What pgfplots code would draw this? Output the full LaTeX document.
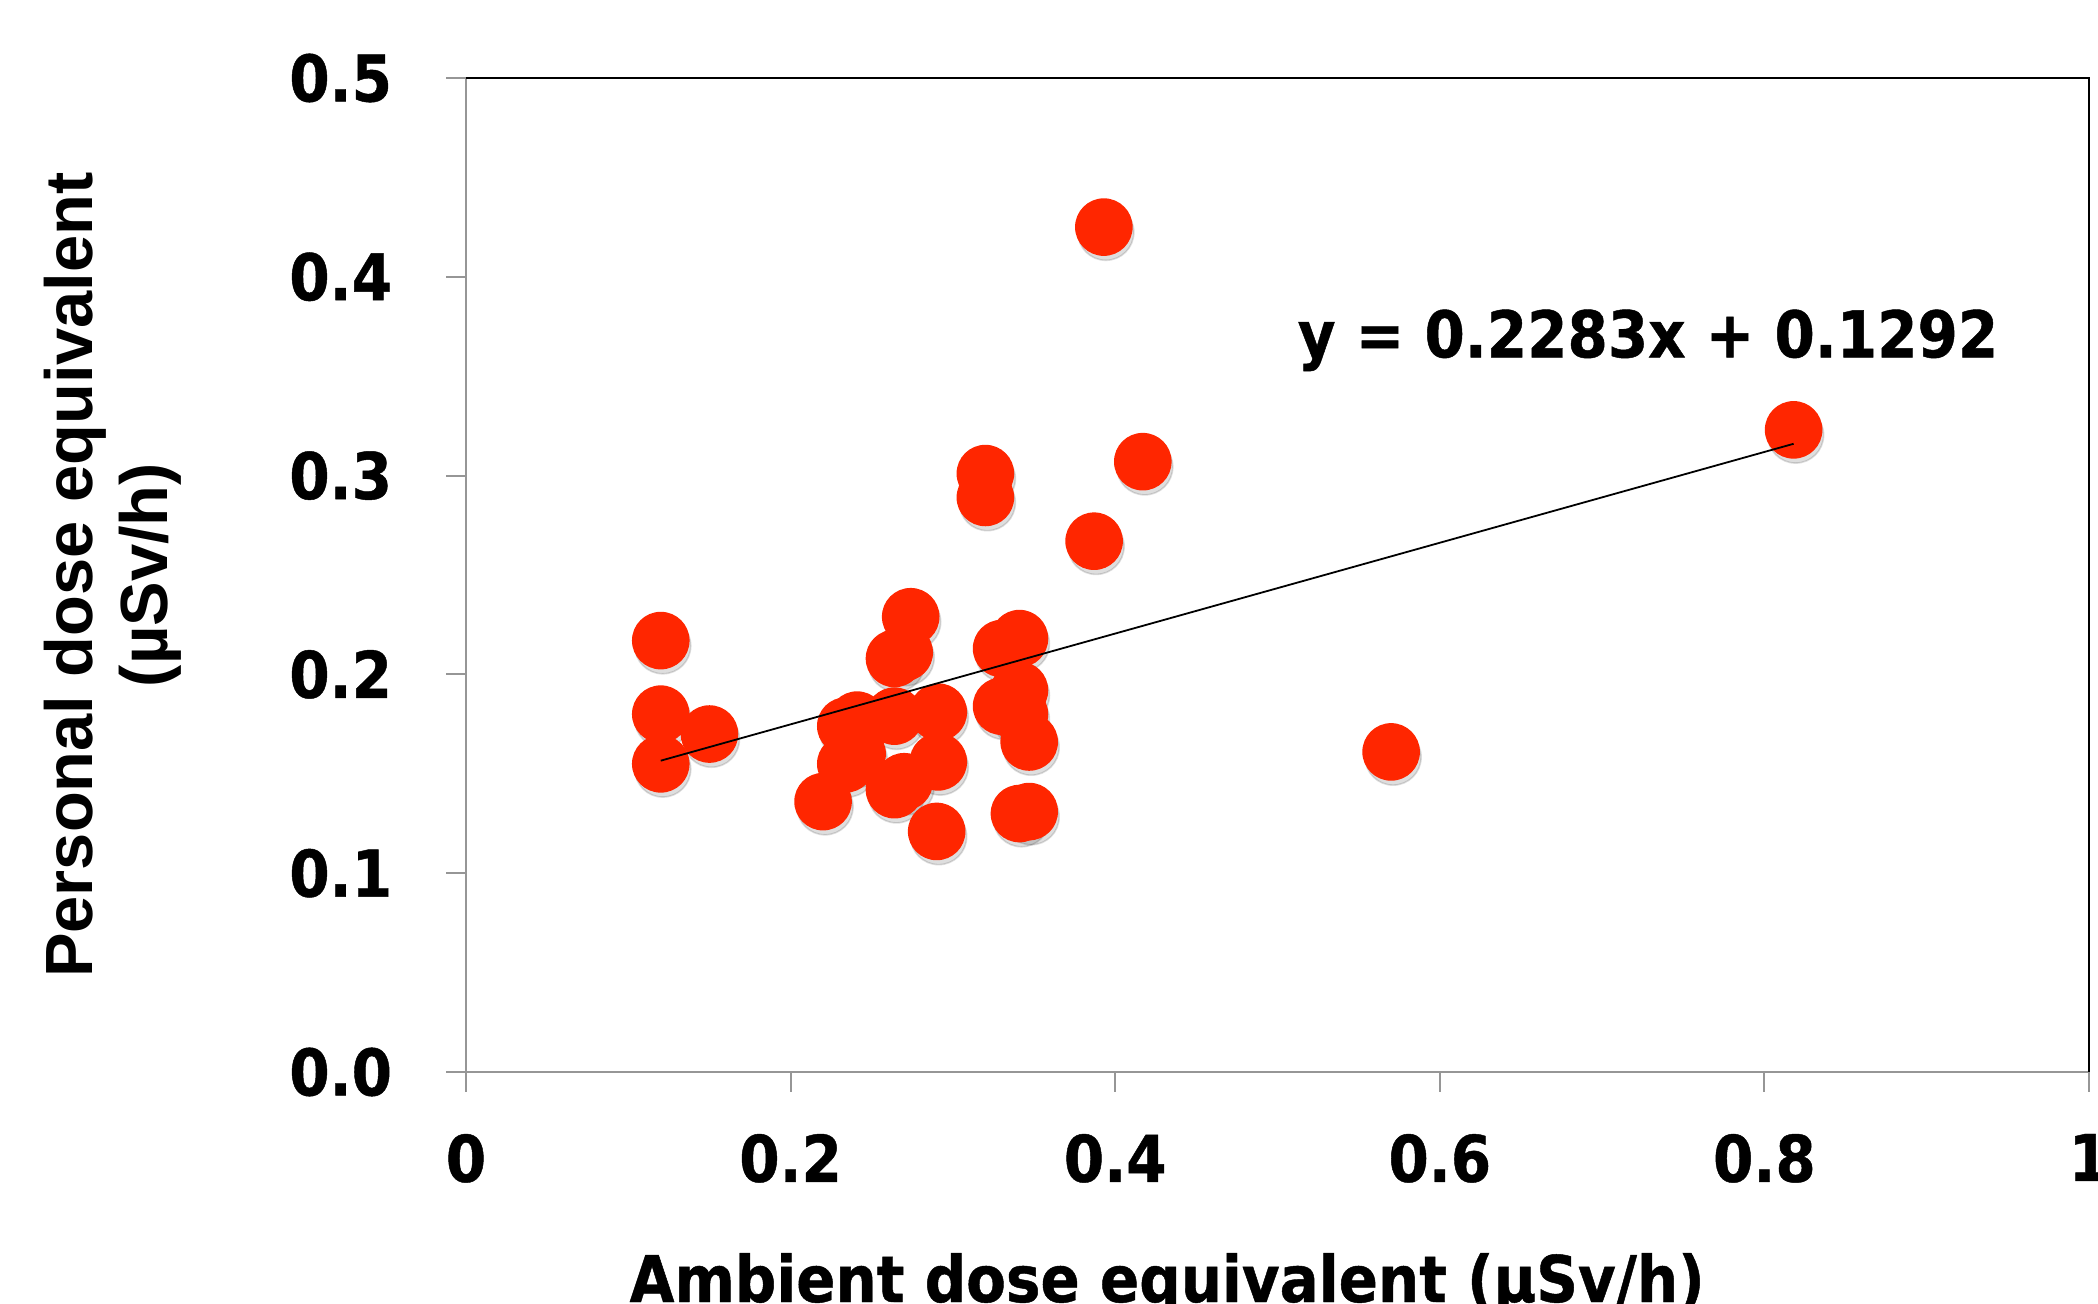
\documentclass[border=0pt]{standalone}
\usepackage{pgfplots}
\usepackage{pgfplotstable}
\pgfplotsset{compat=1.18}
\usepackage{fontspec}
\newfontfamily\vfont{DejaVu Sans}[FakeStretch=0.9, FakeBold=0.7]
\newfontfamily\afont{Liberation Sans}
\definecolor{dotred}{RGB}{255,38,0}
\definecolor{axgray}{RGB}{150,150,150}
\pgfplotstableread{
x y
0.120 0.217
0.120 0.180
0.150 0.170
0.120 0.155
0.220 0.136
0.234 0.174
0.241 0.177
0.234 0.155
0.241 0.160
0.264 0.179
0.264 0.142
0.270 0.146
0.264 0.208
0.270 0.211
0.274 0.229
0.291 0.181
0.291 0.156
0.290 0.121
0.320 0.301
0.320 0.289
0.330 0.213
0.341 0.218
0.330 0.184
0.341 0.192
0.341 0.180
0.347 0.166
0.341 0.130
0.347 0.131
0.387 0.267
0.393 0.425
0.417 0.307
0.570 0.161
0.818 0.323
}\dosedata
\begin{document}
\begin{tikzpicture}
\begin{axis}[
  set layers,
  at={(0,0)}, anchor=south west,
  scale only axis, width=405.75pt, height=248.5pt,
  xmin=0, xmax=1, ymin=0, ymax=0.5,
  xtick={0,0.2,0.4,0.6,0.8,1}, xticklabels={0,0.2,0.4,0.6,0.8,1},
  ytick={0,0.1,0.2,0.3,0.4,0.5}, yticklabels={0.0,0.1,0.2,0.3,0.4,0.5},
  axis line style={draw=none},
  tick align=outside, xtick pos=left, ytick pos=left,
  major tick length=5pt,
  tick style={axgray, line width=0.5pt},
  ticklabel style={font=\vfont\bfseries\fontsize{16.1}{19}\selectfont, inner sep=0pt},
  yticklabel style={anchor=east, xshift=-13.3pt},
  xticklabel style={anchor=north, yshift=-10.3pt},
  xlabel={Ambient dose equivalent (µSv/h)},
  xlabel style={at={(axis description cs:0.432,-0.2314)}, anchor=base, inner sep=0pt, font=\vfont\bfseries\fontsize{16.1}{19}\selectfont},
  ylabel={Personal dose equivalent\\(µSv/h)},
  ylabel style={at={(axis description cs:-0.2179,0.5)}, anchor=center, align=center, inner sep=0pt, font=\afont\bfseries\fontsize{16.7}{18.7}\selectfont},
  clip=false,
]
\addplot[black, opacity=0.13, only marks, mark=*, mark size=7pt, mark options={draw=black, fill=black, xshift=0.5pt, yshift=-1.3pt}] table[x=x,y=y] {\dosedata};
\addplot[dotred, only marks, mark=*, mark size=7pt, mark options={draw=dotred, fill=dotred}] table[x=x,y=y] {\dosedata};
\addplot[black, line width=0.45pt, no marks, on layer=axis foreground] coordinates {(0.12,0.1566) (0.818,0.3160)};
\draw[axgray, line width=0.5pt] (rel axis cs:0,0) -- (rel axis cs:1,0);
\draw[axgray, line width=0.5pt] (rel axis cs:0,0) -- (rel axis cs:0,1);
\draw[black, line width=0.4pt] (rel axis cs:0,1) -- (rel axis cs:1,1) -- (rel axis cs:1,0);
\node[anchor=base west, inner sep=0pt, font=\vfont\bfseries\fontsize{16.1}{19}\selectfont] at (axis cs:0.512,0.3595) {y = 0.2283x + 0.1292};
\end{axis}
\pgfresetboundingbox
\useasboundingbox (-116.5pt,-58pt) rectangle (408pt,268pt);
\end{tikzpicture}
\end{document}
